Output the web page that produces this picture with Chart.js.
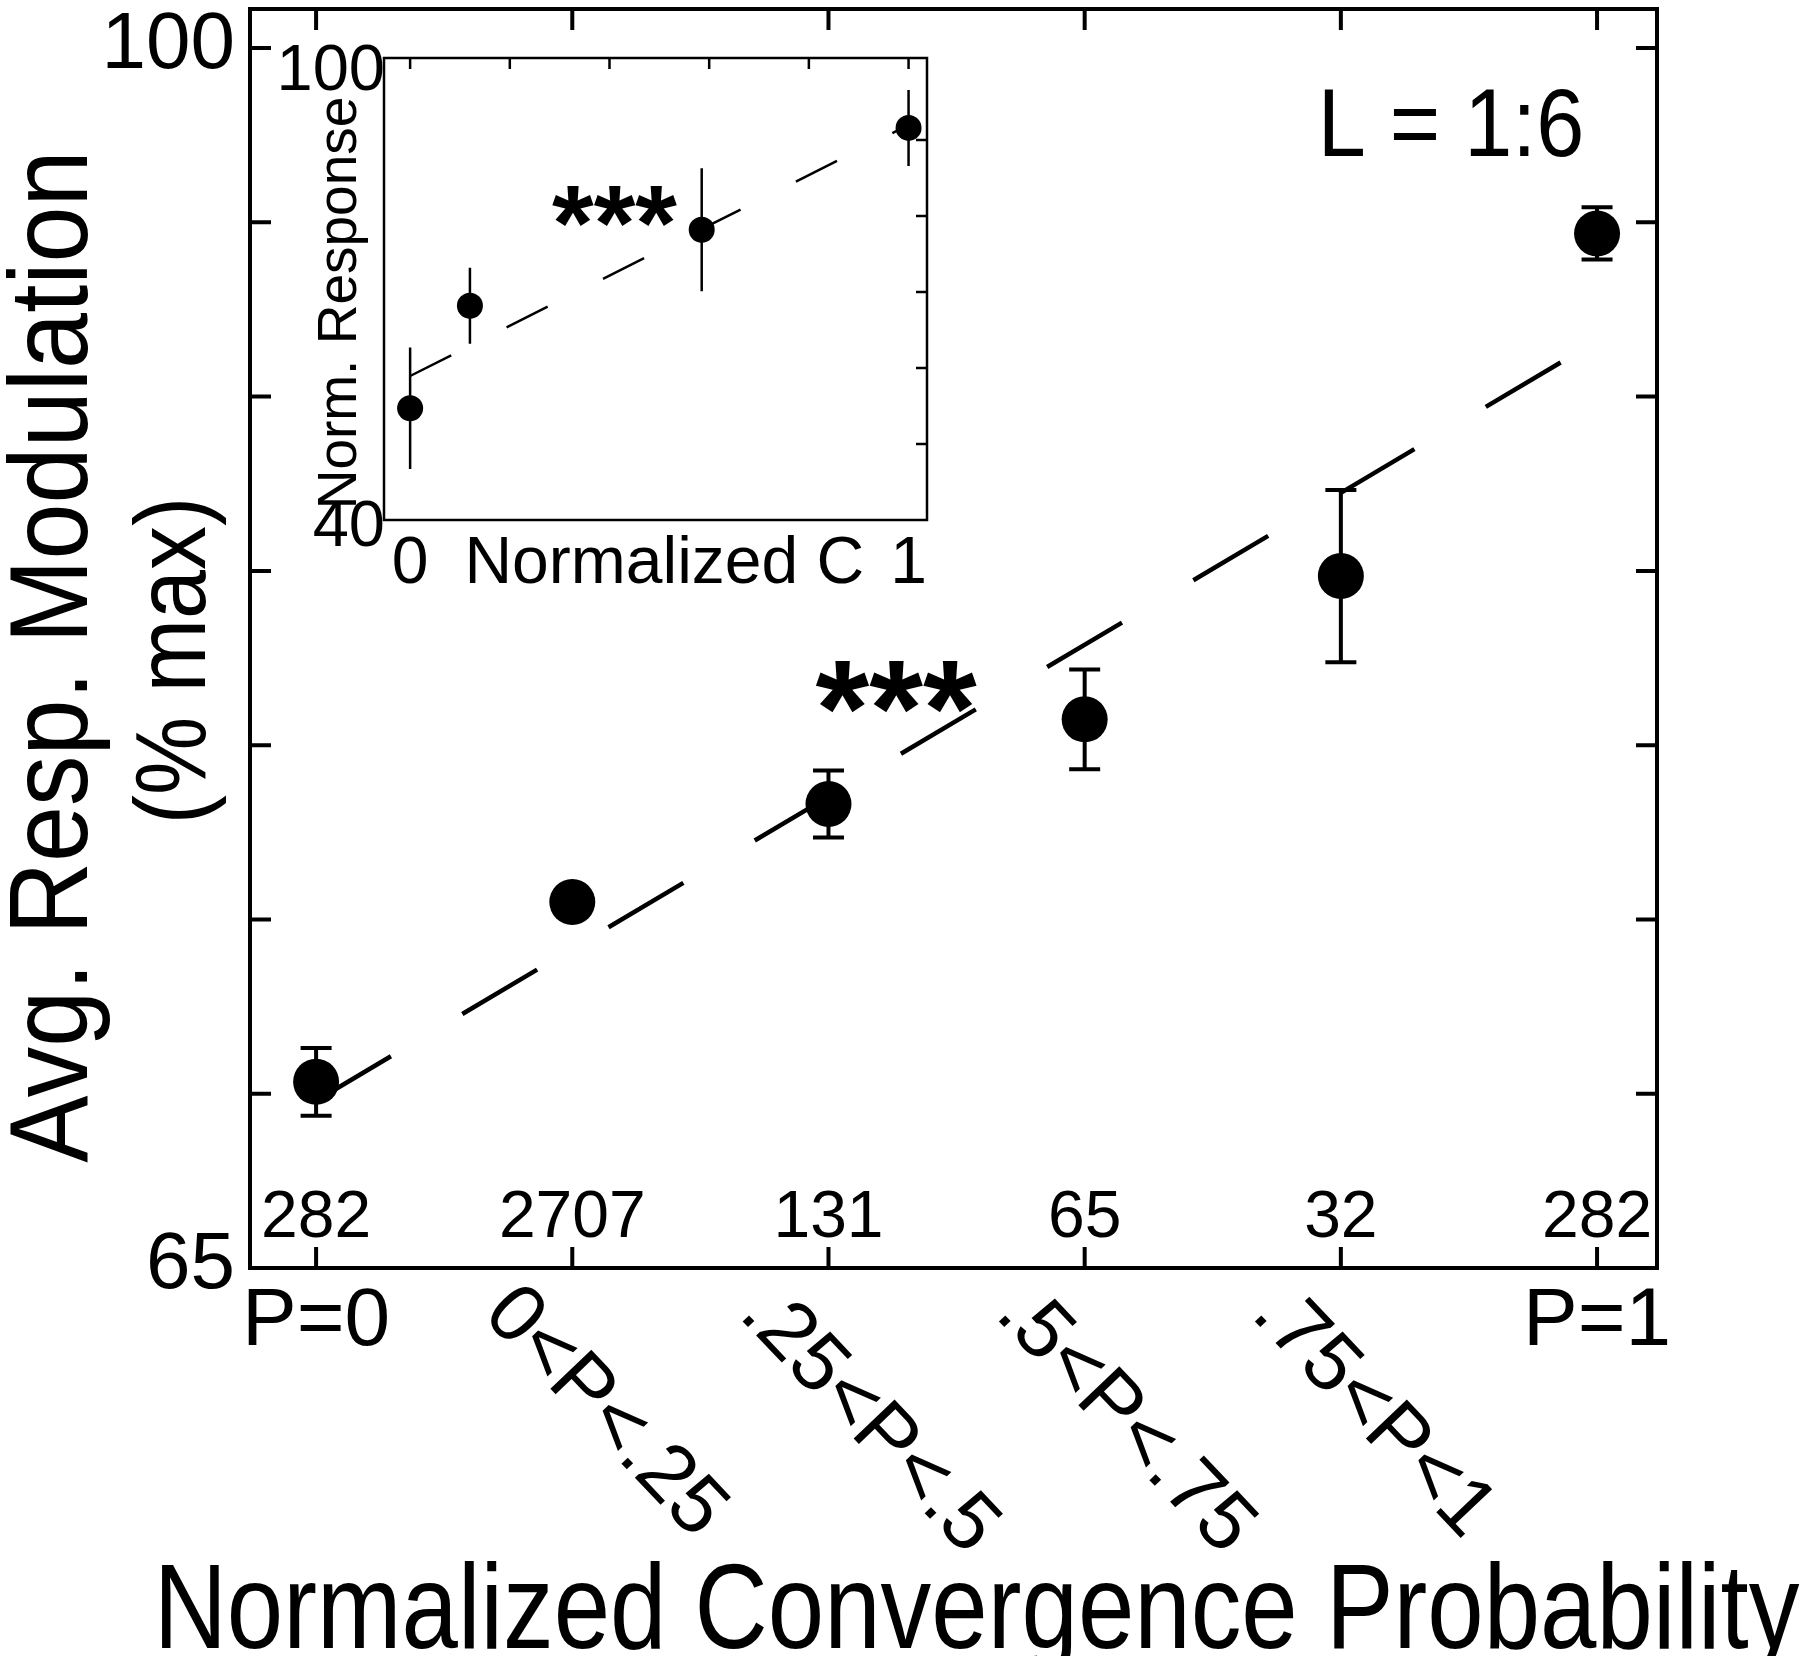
<!DOCTYPE html>
<html>
<head>
<meta charset="utf-8">
<script src="https://cdn.jsdelivr.net/npm/chart.js@4.4.1/dist/chart.umd.min.js"></script>
<style>
    html, body { margin: 0; padding: 0; background: #fff; }
    #wrap { position: relative; width: 1800px; height: 1656px; }
    #wrap canvas { position: absolute; left: 0; top: 0; }
</style>
</head>
<body>
<div id="wrap">
    <canvas id="main" width="1800" height="1656"></canvas>
    <canvas id="inset" width="1800" height="1656"></canvas>
</div>
<script>
// main panel data
const categories = ["P=0", "0<P<.25", ".25<P<.5", ".5<P<.75", ".75<P<1", "P=1"];
const counts = ["282", "2707", "131", "65", "32", "282"];
const modulation = [70.34, 75.5, 78.31, 80.74, 84.85, 94.68];
const modulationErr = [0.97, 0.35, 0.96, 1.43, 2.47, 0.75];
const fitX = [0, 5];
const fitY = [69.8, 91.6];
const yTicks = [65, 70, 75, 80, 85, 90, 95, 100];
const yTickLabels = [65, 100];

// inset data
const insetX = [0, 0.12, 0.585, 1];
const insetY = [54.7, 68.2, 78.2, 91.6];
const insetErr = [8, 5, 8.1, 5];
const insetFitX = [0, 1];
const insetFitY = [58.95, 92.0];
const insetXTicks = [0, 0.2, 0.4, 0.6, 0.8, 1];
const insetYTicks = [50, 60, 70, 80, 90];
const insetYTickLabels = [40, 100];

const FONT = '"Liberation Sans", Arial, Helvetica, sans-serif';

function text(ctx, str, x, y, size, opts = {}) {
    ctx.save();
    ctx.translate(x, y);
    if (opts.angle) ctx.rotate(opts.angle);
    if (opts.sx) ctx.scale(opts.sx, 1);
    ctx.font = (opts.bold ? "bold " : "") + size + "px " + FONT;
    ctx.textAlign = opts.align || "center";
    ctx.textBaseline = "alphabetic";
    ctx.fillStyle = "#000";
    ctx.fillText(str, 0, 0);
    ctx.restore();
}

// vertical error bars, optional caps
const errorBars = (xs, ys, errs, capHalf, width) => ({
    id: "errorBars",
    beforeDatasetsDraw(chart) {
        const { ctx, scales: { x, y } } = chart;
        ctx.save();
        ctx.strokeStyle = "#000";
        ctx.lineWidth = width;
        ctx.beginPath();
        xs.forEach((xv, i) => {
            const px = x.getPixelForValue(xv);
            const top = y.getPixelForValue(ys[i] + errs[i]);
            const bot = y.getPixelForValue(ys[i] - errs[i]);
            ctx.moveTo(px, top);
            ctx.lineTo(px, bot);
            if (capHalf) {
                ctx.moveTo(px - capHalf, top);
                ctx.lineTo(px + capHalf, top);
                ctx.moveTo(px - capHalf, bot);
                ctx.lineTo(px + capHalf, bot);
            }
        });
        ctx.stroke();
        ctx.restore();
    },
});

const mainDecor = {
    id: "mainDecor",
    afterDraw(chart) {
        const { ctx, chartArea: a, scales: { x, y } } = chart;
        ctx.save();
        ctx.strokeStyle = "#000";
        ctx.lineWidth = 4;
        ctx.strokeRect(a.left, a.top, a.right - a.left, a.bottom - a.top);
        ctx.beginPath();
        categories.forEach((c, i) => {
            const px = x.getPixelForValue(i);
            ctx.moveTo(px, a.bottom);
            ctx.lineTo(px, a.bottom - 21);
            ctx.moveTo(px, a.top);
            ctx.lineTo(px, a.top + 21);
        });
        yTicks.forEach((v) => {
            const py = y.getPixelForValue(v);
            ctx.moveTo(a.left, py);
            ctx.lineTo(a.left + 21, py);
            ctx.moveTo(a.right, py);
            ctx.lineTo(a.right - 21, py);
        });
        ctx.stroke();
        ctx.restore();

        yTickLabels.forEach((v) => {
            text(ctx, String(v), a.left - 15, y.getPixelForValue(v) + 20, 80, { align: "right" });
        });

        const angle = (46.5 * Math.PI) / 180;
        categories.forEach((c, i) => {
            const px = x.getPixelForValue(i);
            text(ctx, counts[i], px, a.bottom - 31, 66);
            if (i === 0 || i === categories.length - 1) {
                text(ctx, c, px, a.bottom + 77, 82);
            } else {
                text(ctx, c, px - 91, a.bottom + 48, 82, { align: "left", angle });
            }
        });

        const midX = (a.left + a.right) / 2;
        const midY = (a.top + a.bottom) / 2;
        text(ctx, "Normalized Convergence Probability", midX + 23, a.bottom + 380, 120, { sx: 0.845 });
        text(ctx, "Avg. Resp. Modulation", a.left - 163, midY + 18, 112, { angle: -Math.PI / 2, sx: 0.9 });
        text(ctx, "(% max)", a.left - 45, midY + 22, 100, { angle: -Math.PI / 2, sx: 0.88 });

        text(ctx, "L = 1:6", x.getPixelForValue(4.43), y.getPixelForValue(96.9), 96, { sx: 0.9 });
        text(ctx, "***", x.getPixelForValue(2.264), y.getPixelForValue(79.7), 138, { bold: true });
    },
};

const insetDecor = {
    id: "insetDecor",
    afterDraw(chart) {
        const { ctx, chartArea: a, scales: { x, y } } = chart;
        ctx.save();
        ctx.strokeStyle = "#000";
        ctx.lineWidth = 2.5;
        ctx.strokeRect(a.left, a.top, a.right - a.left, a.bottom - a.top);
        ctx.beginPath();
        insetXTicks.forEach((v) => {
            const px = x.getPixelForValue(v);
            ctx.moveTo(px, a.top);
            ctx.lineTo(px, a.top + 11);
        });
        insetYTicks.forEach((v) => {
            const py = y.getPixelForValue(v);
            ctx.moveTo(a.right, py);
            ctx.lineTo(a.right - 11, py);
        });
        ctx.stroke();
        ctx.restore();

        insetYTickLabels.forEach((v) => {
            text(ctx, String(v), a.left + 1, y.getPixelForValue(v) + 26, 65, { align: "right" });
        });
        text(ctx, "0", x.getPixelForValue(0), a.bottom + 63, 66);
        text(ctx, "1", x.getPixelForValue(1), a.bottom + 63, 66);
        text(ctx, "Normalized C", x.getPixelForValue(0.51), a.bottom + 63, 66);
        text(ctx, "Norm. Response", a.left - 28, (a.top + a.bottom) / 2 + 14, 55, { angle: -Math.PI / 2 });
        text(ctx, "***", x.getPixelForValue(0.41), y.getPixelForValue(74.2), 107, { bold: true });
    },
};

new Chart(document.getElementById("main").getContext("2d"), {
    type: "scatter",
    data: {
        datasets: [
            {
                data: modulation.map((v, i) => ({ x: i, y: v })),
                pointRadius: 23,
                pointBackgroundColor: "#000",
                pointBorderWidth: 0,
                showLine: false,
            },
            {
                data: fitX.map((v, i) => ({ x: v, y: fitY[i] })),
                showLine: true,
                borderColor: "#000",
                borderWidth: 4.5,
                borderDash: [87, 83],
                pointRadius: 0,
            },
        ],
    },
    options: {
        responsive: false,
        devicePixelRatio: 1,
        animation: false,
        events: [],
        layout: { autoPadding: false, padding: { left: 250, right: 143, top: 9, bottom: 388 } },
        plugins: { legend: { display: false }, tooltip: { enabled: false } },
        scales: {
            x: { type: "linear", display: false, min: -0.258, max: 5.234 },
            y: { type: "linear", display: false, min: 65, max: 101.12 },
        },
    },
    plugins: [errorBars(categories.map((c, i) => i), modulation, modulationErr, 15.5, 4), mainDecor],
});

new Chart(document.getElementById("inset").getContext("2d"), {
    type: "scatter",
    data: {
        datasets: [
            {
                data: insetX.map((v, i) => ({ x: v, y: insetY[i] })),
                pointRadius: 13,
                pointBackgroundColor: "#000",
                pointBorderWidth: 0,
                showLine: false,
            },
            {
                data: insetFitX.map((v, i) => ({ x: v, y: insetFitY[i] })),
                showLine: true,
                borderColor: "#000",
                borderWidth: 2.5,
                borderDash: [46, 62],
                pointRadius: 0,
            },
        ],
    },
    options: {
        responsive: false,
        devicePixelRatio: 1,
        animation: false,
        events: [],
        layout: { autoPadding: false, padding: { left: 384, right: 873, top: 58, bottom: 1136 } },
        plugins: { legend: { display: false }, tooltip: { enabled: false } },
        scales: {
            x: { type: "linear", display: false, min: -0.0524, max: 1.037 },
            y: { type: "linear", display: false, min: 40, max: 100.8 },
        },
    },
    plugins: [errorBars(insetX, insetY, insetErr, 0, 2.5), insetDecor],
});
</script>
</body>
</html>
